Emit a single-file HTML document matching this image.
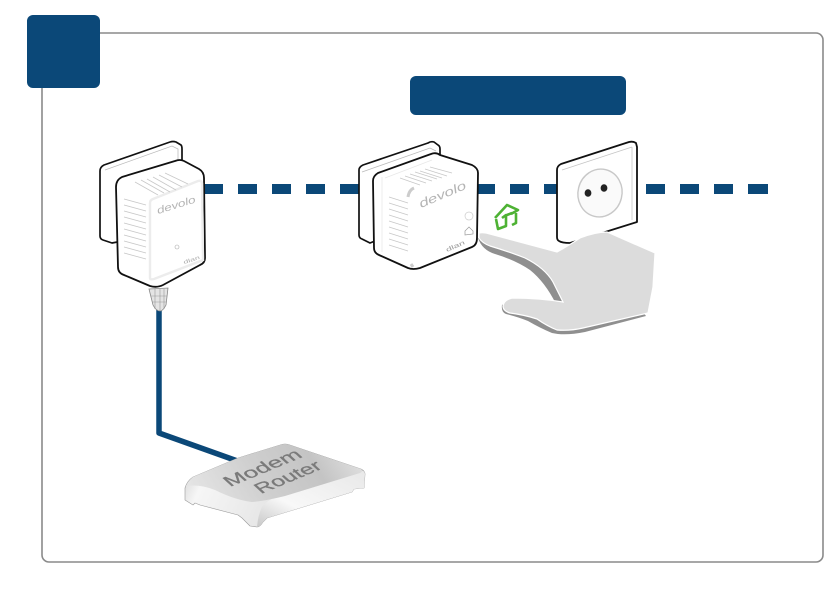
<!DOCTYPE html>
<html>
<head>
<meta charset="utf-8">
<style>
html,body{margin:0;padding:0;background:#fff;width:839px;height:595px;overflow:hidden}
svg{display:block}
text{font-family:"Liberation Sans",sans-serif}
</style>
</head>
<body>
<svg width="839" height="595" viewBox="0 0 839 595" xmlns="http://www.w3.org/2000/svg">
<defs>
<linearGradient id="rt" x1="0" y1="0.6" x2="1" y2="0.4">
<stop offset="0" stop-color="#e4e4e4"/><stop offset="0.4" stop-color="#cfcfcf"/><stop offset="0.75" stop-color="#c4c4c4"/><stop offset="1" stop-color="#dedede"/>
</linearGradient>
<linearGradient id="rl" x1="0" y1="0" x2="1" y2="0.2">
<stop offset="0" stop-color="#c8c8c8"/><stop offset="0.18" stop-color="#f6f6f6"/><stop offset="0.65" stop-color="#e4e4e4"/><stop offset="1" stop-color="#a8a8a8"/>
</linearGradient>
<linearGradient id="rr" x1="0" y1="1" x2="1" y2="0">
<stop offset="0" stop-color="#c8c8c8"/><stop offset="0.35" stop-color="#f8f8f8"/><stop offset="1" stop-color="#e8e8e8"/>
</linearGradient>
</defs>

<!-- frame -->
<rect x="42" y="33" width="781" height="529" rx="7" fill="#fff" stroke="#8a8a8a" stroke-width="1.6"/>
<rect x="27" y="15" width="73" height="73" rx="6" fill="#0b4878"/>
<rect x="410" y="76" width="216" height="39" rx="6" fill="#0b4878"/>

<!-- dashes -->
<g fill="#0b4878">
<rect x="204" y="184" width="19" height="10"/>
<rect x="238" y="184" width="19" height="10"/>
<rect x="272" y="184" width="19" height="10"/>
<rect x="306" y="184" width="19" height="10"/>
<rect x="340" y="184" width="20" height="10"/>
<rect x="476" y="184" width="19" height="10"/>
<rect x="510" y="184" width="19" height="10"/>
<rect x="544" y="184" width="19" height="10"/>
<rect x="646" y="184" width="19" height="10"/>
<rect x="680" y="184" width="19" height="10"/>
<rect x="714" y="184" width="19" height="10"/>
<rect x="748" y="184" width="20" height="10"/>
</g>

<!-- cable -->
<path d="M159 310 V433 L243 463" fill="none" stroke="#0b4878" stroke-width="5.5" stroke-linejoin="round"/>

<!-- router -->
<path d="M185 500 V488 Q187 481 193 477 L238 458 L280 445 Q285 443 290 445 L361 469 Q365 471 365 474 L364 488 L354 489 L352 492 L267 518 L263 522 Q260 527 257 527 L250 526 L242 518 L238 515 L200 505 L195 503 L193 505 Z" fill="url(#rl)" stroke="#9a9a9a" stroke-width="0.6" stroke-linejoin="round"/>
<path d="M257 527 Q260 527 263 522 L267 518 L352 492 L354 489 L364 488 L365 474 Q365 471 361 470 L290 492 Q268 498 262 507 Q258 515 257 527 Z" fill="url(#rr)"/>
<path d="M186 486 Q188 481 193 477 L238 458 L280 445 Q285 443 290 445 L361 469 Q364 471 360 473 L285 496 Q265 501 252 502 Q235 500 215 490 Q200 484 186 486 Z" fill="url(#rt)"/>
<g fill="#7a7a7a" stroke="#7a7a7a" stroke-width="0.4" font-size="24">
<text transform="matrix(0.92 -0.38 0.55 0.5 230 487)" textLength="80" lengthAdjust="spacingAndGlyphs">Modem</text>
<text transform="matrix(0.92 -0.38 0.55 0.5 261 494)" textLength="68" lengthAdjust="spacingAndGlyphs">Router</text>
</g>

<!-- left adapter -->
<path d="M100 171 Q100 167 104 165 L170 142 Q173 141 176 142 L181 145 Q182 146 182 149 V230 L112 243 L103 240 Q100 239 100 236 Z" fill="#fff" stroke="#111" stroke-width="1.7" stroke-linejoin="round"/>
<path d="M105 170 L172 146 L178 149 L178 165" fill="none" stroke="#bbb" stroke-width="0.8"/>
<path d="M149 289 L168 288 L166 305 Q163 311 160 311 Q156 311 153 305 Z" fill="#e4e4e4" stroke="#888" stroke-width="0.8"/>
<path d="M151 296 L167 296 M152 302 L166 302 M155 289 V309 M160 289 V311 M164 289 V309" stroke="#999" stroke-width="0.6" fill="none"/>
<path d="M116 187 Q116 180 122 177 L175 161 Q180 159 184 161 L199 169 Q204 172 204 178 L205 258 Q205 263 200 265 L163 285 Q157 288 150 286 L124 275 Q118 273 118 267 Z" fill="#fff" stroke="#111" stroke-width="1.8" stroke-linejoin="round"/>
<path d="M150 278 V203 Q150 200 153 199 L198 181 Q202 180 202 184 L203 260 L154 279 Q150 280 150 278 Z" fill="none" stroke="#ececec" stroke-width="2.4"/>
<g stroke="#c8c8c8" stroke-width="0.8" fill="none">
<path d="M124 199 L146 205 M124 205 L146 211 M124 211 L146 217 M124 217 L146 223 M124 223 L146 229 M124 229 L146 235 M124 235 L146 241 M124 241 L146 247 M124 247 L146 253 M124 253 L146 259"/>
<path d="M135 182 L158 195 M141 180 L164 193 M147 179 L170 192 M153 177 L176 190 M159 175 L182 187 M165 173 L188 184"/>
</g>
<text transform="translate(158 214) rotate(-17)" font-size="10" font-style="italic" fill="#b4b4b4" textLength="40" lengthAdjust="spacingAndGlyphs">devolo</text>
<circle cx="177" cy="247" r="2" fill="none" stroke="#aaa" stroke-width="0.6"/>
<text transform="translate(184 264) rotate(-18)" font-size="5" fill="#aaa" textLength="17" lengthAdjust="spacingAndGlyphs">dlan</text>

<!-- right adapter -->
<path d="M359 170 Q359 167 363 165 L428 143 Q431 141 434 142 L438 145 Q440 146 440 149 V215 L370 243 L362 239 Q359 238 359 235 Z" fill="#fff" stroke="#111" stroke-width="1.7" stroke-linejoin="round"/>
<path d="M362 172 L430 148 L436 151" fill="none" stroke="#bbb" stroke-width="0.8"/>
<path d="M373 181 Q373 176 378 173 L431 154 Q436 152 440 155 L472 165 Q478 168 478 173 L477 238 Q477 245 472 247 L420 268 Q413 270 408 268 L379 255 Q374 253 374 248 Z" fill="#fff" stroke="#111" stroke-width="1.8" stroke-linejoin="round"/>
<path d="M382 177 V252 M385 178 L432 160" fill="none" stroke="#e8e8e8" stroke-width="0.8"/>
<path d="M408 197 Q409 190 414 188" fill="none" stroke="#ccc" stroke-width="3"/>
<path d="M411 264 L413 267" stroke="#ccc" stroke-width="3"/>
<g stroke="#c8c8c8" stroke-width="0.8" fill="none">
<path d="M389 197 L408 203 M389 203 L408 209 M389 209 L408 215 M389 215 L408 221 M389 221 L408 227 M389 227 L408 233 M389 233 L408 239 M389 239 L408 245 M389 245 L408 251"/>
<path d="M400 178 L420 185 M405 176 L426 183 M410 174 L432 181 M415 172 L437 179 M420 171 L442 178 M425 169 L447 176 M430 167 L452 173"/>
</g>
<text transform="translate(421 208) rotate(-23)" font-size="12" font-style="italic" fill="#b4b4b4" textLength="50" lengthAdjust="spacingAndGlyphs">devolo</text>
<circle cx="469" cy="216" r="4" fill="#fff" stroke="#ccc" stroke-width="0.7"/>
<path d="M465 235 V231 L469 227 L473 231 V234 Z" fill="none" stroke="#999" stroke-width="0.7"/>
<text transform="translate(447 252) rotate(-24)" font-size="6" fill="#999" textLength="20" lengthAdjust="spacingAndGlyphs">dlan</text>

<!-- socket -->
<path d="M557 170 Q557 166 561 164 L629 142 Q633 141 636 143 L637 147 V222 L570 243 Q562 243 559 241 Q557 240 557 237 Z" fill="#fff" stroke="#111" stroke-width="1.8" stroke-linejoin="round"/>
<path d="M562 170 L632 147 M632 147 V220" fill="none" stroke="#c5c5c5" stroke-width="0.8"/>
<ellipse cx="600" cy="193" rx="22" ry="24" transform="rotate(14 600 193)" fill="#fafafa" stroke="#c8c8c8" stroke-width="1.4"/>
<ellipse cx="588" cy="193" rx="3.4" ry="3.8" fill="#222"/>
<ellipse cx="604" cy="188" rx="3.4" ry="3.8" fill="#222"/>

<!-- green home icon -->
<path d="M495 218 L507 205 L518 210 L511 214 M496 219 L498 229 L506 226 V215 L502 218 M507 215 L512 213 M512 225 L516 223 V213" fill="none" stroke="#4eb234" stroke-width="2.6" stroke-linejoin="round"/>

<!-- hand -->
<path d="M478 238 Q482 250 495 254 Q515 260 530 270 Q545 282 556 304 L568 304 L568 270 L520 250 Z" fill="#8f8f8f"/>
<path d="M502 305 Q501 312 506 314 Q518 317 528 321 Q540 328 552 333 Q565 336 585 332 L646 316 L640 308 L600 305 L510 300 Z" fill="#8f8f8f"/>
<path d="M479 233 Q484 232 490 234 L557 252 Q568 246 580 238 Q595 232 607 232 L655 253 L653 287 L648 313 L583 328 Q570 331 557 330 Q547 326 537 319 Q525 315 510 313 Q503 311 503 306 Q504 300 512 298 Q540 298 563 302 Q558 292 553 282 Q545 268 525 258 Q510 252 490 246 Q482 243 479 238 Z" fill="#dcdcdc" stroke="#fff" stroke-width="1.2"/>
</svg>
</body>
</html>
